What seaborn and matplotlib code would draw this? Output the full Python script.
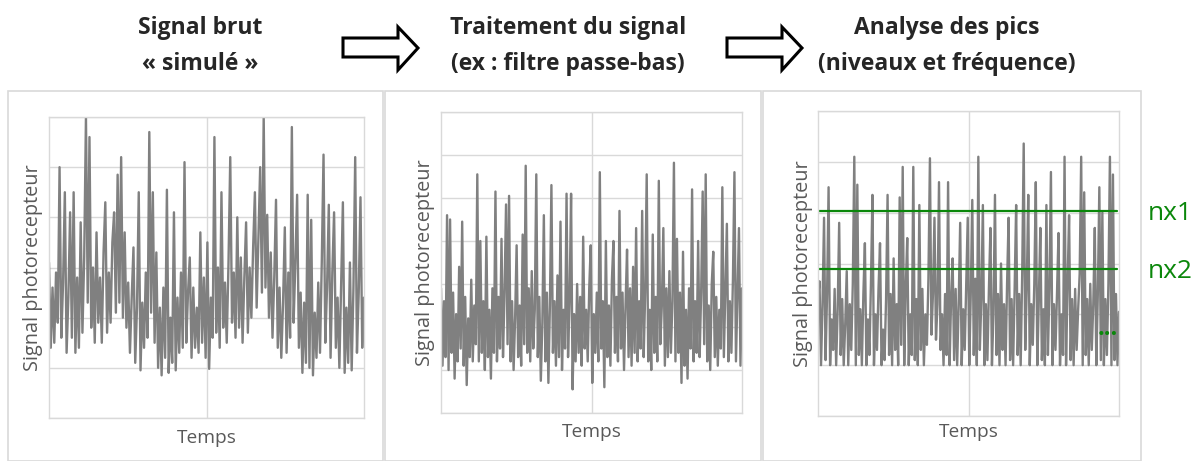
import matplotlib
matplotlib.use("Agg")
import matplotlib.pyplot as plt
from matplotlib.patches import Rectangle, Polygon
import seaborn as sns
import pandas as pd

# values (arbitrary units, one grid step = 1)
raw_signal = [
    3.1, 1.4, 2.6, 1.5, 2.9, 1.9, 5.0, 1.6, 2.7, 4.5, 1.3, 2.4, 4.1, 1.6, 4.5, 1.3, 2.8, 1.4, 3.9, 1.7,
    3.2, 6.0, 2.3, 5.6, 1.8, 3.0, 1.5, 3.7, 1.9, 2.8, 1.5, 3.3, 4.3, 1.7, 2.9, 1.9, 3.5, 4.1, 2.1, 4.85,
    2.3, 5.2, 2.0, 3.7, 1.8, 2.7, 1.3, 2.4, 3.4, 1.1, 2.2, 4.5, 0.95, 2.3, 1.4, 2.9, 1.6, 5.7, 2.1, 4.5,
    1.5, 3.3, 1.0, 2.2, 0.85, 2.6, 1.2, 4.55, 0.9, 2.0, 1.1, 4.1, 0.95, 2.4, 1.3, 2.9, 1.4, 5.1, 1.5, 2.5,
    3.2, 1.2, 2.6, 1.4, 2.2, 1.3, 3.7, 1.5, 2.8, 1.2, 3.5, 0.98, 2.4, 1.6, 5.6, 1.7, 3.0, 1.4, 4.5, 1.8,
    2.7, 1.5, 3.1, 5.2, 1.9, 2.9, 1.6, 4.0, 1.8, 3.2, 1.5, 2.8, 3.9, 1.7, 3.0, 2.0, 3.4, 4.5, 2.2, 3.6,
    5.0, 2.5, 6.0, 2.6, 4.05, 2.0, 3.3, 1.6, 2.8, 4.35, 1.4, 2.6, 1.2, 2.3, 3.8, 1.3, 2.9, 1.6, 5.8, 1.9,
    3.1, 4.45, 1.4, 2.5, 0.9, 2.3, 1.1, 4.45, 1.0, 3.95, 0.85, 2.1, 1.2, 2.7, 1.3, 3.1, 5.25, 1.5, 2.6, 4.25,
    1.2, 2.9, 4.1, 1.4, 2.4, 1.0, 2.7, 4.3, 0.9, 2.2, 1.1, 3.1, 0.95, 2.6, 5.2, 1.3, 2.5, 4.4, 1.4, 2.4,
]

filtered_signal = [
    2.9, 1.1, 2.6, 1.3, 4.6, 1.0, 4.5, 1.4, 2.8, 0.8, 2.3, 1.2, 3.4, 1.5, 4.45, 1.1, 2.7, 0.65, 2.2, 1.3,
    3.1, 1.2, 2.5, 1.6, 5.55, 1.2, 4.0, 1.4, 2.6, 1.0, 4.1, 1.3, 2.4, 0.8, 2.9, 1.4, 5.15, 1.2, 2.7, 1.5,
    4.05, 1.3, 2.8, 4.85, 1.6, 5.05, 1.2, 2.6, 1.0, 2.2, 3.9, 1.3, 2.5, 1.1, 4.15, 1.6, 5.75, 1.4, 2.9, 1.2,
    3.3, 1.5, 2.4, 5.55, 1.3, 2.7, 0.75, 2.1, 4.6, 1.2, 2.8, 0.7, 2.5, 5.3, 1.4, 2.6, 1.1, 3.2, 1.3, 4.45,
    1.0, 2.4, 1.5, 5.1, 1.3, 2.6, 5.1, 0.55, 2.3, 1.2, 3.0, 1.4, 2.7, 1.1, 4.1, 1.5, 2.4, 1.2, 2.9, 3.9,
    0.7, 2.3, 1.4, 2.8, 1.2, 5.6, 1.5, 2.6, 0.6, 4.0, 1.3, 2.5, 1.1, 3.1, 4.0, 1.4, 2.7, 1.2, 4.7, 1.5,
    2.8, 1.0, 2.5, 3.8, 1.3, 2.9, 1.1, 3.4, 1.4, 4.3, 1.2, 2.6, 1.5, 4.7, 1.3, 2.8, 5.55, 1.2, 2.4, 1.0,
    4.15, 1.4, 2.7, 1.2, 5.4, 1.6, 2.5, 4.3, 1.1, 2.9, 1.3, 3.3, 1.4, 2.6, 5.82, 1.2, 4.05, 1.4, 2.8, 0.7,
    3.75, 1.1, 2.4, 0.8, 2.9, 1.5, 5.2, 1.2, 2.6, 1.4, 4.0, 1.3, 2.8, 5.15, 1.6, 5.55, 1.2, 2.5, 1.0, 3.0,
    3.75, 1.3, 2.7, 1.1, 2.4, 1.5, 5.25, 1.3, 2.9, 4.4, 1.2, 2.6, 1.4, 3.1, 5.6, 1.2, 2.8, 4.3, 1.1, 2.9,
]

peak_signal = [
    2.3, 2.65, 1.0, 2.2, 3.9, 1.1, 2.4, 4.5, 1.0, 1.9, 1.3, 2.5, 1.0, 2.1, 3.8, 1.2, 2.3, 1.0, 1.8, 2.85,
    1.0, 2.2, 1.3, 2.6, 5.1, 1.0, 4.55, 1.2, 2.1, 1.0, 2.4, 3.4, 1.0, 1.9, 1.2, 2.6, 4.35, 1.0, 2.0, 1.3,
    2.5, 3.4, 1.0, 1.7, 1.1, 2.3, 4.35, 1.2, 2.4, 1.0, 3.1, 1.3, 2.2, 1.0, 4.3, 1.4, 4.9, 1.0, 2.5, 3.5,
    1.0, 2.0, 1.2, 4.9, 1.1, 2.3, 1.0, 4.15, 1.3, 2.5, 1.0, 2.0, 1.4, 2.7, 5.07, 1.6, 2.4, 3.9, 1.5, 2.2,
    4.6, 1.3, 2.0, 1.0, 2.4, 1.2, 4.6, 1.0, 2.3, 3.1, 1.1, 2.5, 1.0, 2.2, 3.8, 1.0, 2.1, 1.3, 2.6, 3.9,
    1.0, 2.4, 4.25, 1.2, 2.7, 1.0, 5.1, 1.3, 2.3, 4.15, 1.0, 2.2, 1.1, 2.5, 3.7, 1.0, 2.0, 4.35, 1.2, 2.4,
    1.0, 3.0, 1.3, 2.2, 1.0, 2.6, 3.9, 1.1, 2.3, 1.0, 2.5, 4.15, 1.2, 2.4, 1.0, 2.8, 5.36, 1.3, 2.5, 4.35,
    1.0, 2.2, 1.4, 2.6, 4.6, 1.0, 2.3, 3.7, 1.1, 2.1, 1.0, 4.15, 1.2, 2.5, 4.8, 1.0, 2.2, 1.3, 2.4, 3.6,
    1.0, 2.0, 1.2, 5.1, 1.0, 2.6, 3.95, 1.1, 2.3, 1.0, 2.5, 1.3, 2.1, 2.8, 5.1, 1.0, 4.4, 1.2, 2.3, 1.0,
    2.6, 1.3, 2.2, 3.7, 1.0, 2.4, 4.5, 1.1, 4.0, 1.0, 2.3, 1.2, 2.6, 5.1, 1.0, 4.75, 1.1, 2.4, 1.0, 2.05,
]

title_top = ["Signal brut", "Traitement du signal", "Analyse des pics"]
title_bottom = ["\u00ab simul\u00e9 \u00bb", "(ex : filtre passe-bas)", "(niveaux et fr\u00e9quence)"]
level_names = ["nx1", "nx2"]
level_values = [4.04, 2.89]

sns.set_style("white")
plt.rcParams['font.family'] = ['Open Sans', 'DejaVu Sans']

W, H = 1204, 461
fig = plt.figure(figsize=(W / 100, H / 100), dpi=100)


def fx(px):
    return px / W


def fy(py):
    return 1 - py / H


# panel frames
for x0, x1 in [(8, 383), (385, 761), (763, 1141)]:
    fig.patches.append(Rectangle((fx(x0), fy(461)), fx(x1 - x0), (461 - 91) / H,
                                 transform=fig.transFigure, fill=False,
                                 edgecolor="#d9d9d9", lw=1.2))

# axes boxes in pixels: left, top, right, bottom
boxes = [(49, 117, 364, 418), (441, 112, 742, 413), (818, 111, 1119, 416)]
signals = [raw_signal, filtered_signal, peak_signal]
ymax = [6, 7, 6]
ylab_off = [16, 16, 15]
xlab_off = [20, 19, 16]

axes = []
for box, sig, top, yo, xo in zip(boxes, signals, ymax, ylab_off, xlab_off):
    l, t, r, b = box
    ax = fig.add_axes([fx(l), fy(b), fx(r - l), (b - t) / H])
    df = pd.DataFrame({"t": range(len(sig)), "v": sig})
    sns.lineplot(data=df, x="t", y="v", ax=ax, color="#808080", lw=1.7)
    n = len(sig) - 1
    ax.set_xlim(0, n)
    ax.set_ylim(0, top)
    ax.set_xticks([n / 2])
    ax.set_yticks(range(top + 1))
    ax.grid(True, color="#d9d9d9", lw=1)
    ax.set_axisbelow(True)
    ax.tick_params(length=0, labelbottom=False, labelleft=False)
    for s in ax.spines.values():
        s.set_color("#d9d9d9")
        s.set_linewidth(1)
    ax.set_ylabel("Signal photorecepteur", fontsize=14.3, color="#595959")
    ax.yaxis.set_label_coords(-yo / (r - l), 0.5)
    ax.yaxis.label.set_verticalalignment("center")
    ax.set_xlabel("Temps", fontsize=13.8, color="#595959")
    ax.xaxis.set_label_coords(0.5, -xo / (b - t))
    ax.xaxis.label.set_verticalalignment("center")
    axes.append(ax)

# detection levels on the last panel
ax3 = axes[2]
for name, val, ty in zip(level_names, level_values, [214, 271]):
    ax3.axhline(val, xmin=0, xmax=0.993, color="#0a870a", lw=1.6)
    fig.text(fx(1170), fy(ty), name, fontsize=19, color="#0a870a",
             ha="center", va="center")
ax3.text(0.995, 1.72, "...", transform=ax3.get_yaxis_transform(), color="#0a870a",
         fontsize=17, fontweight="bold", ha="right", va="center")

# step titles
for cx, t1, t2 in zip([200, 568, 947], title_top, title_bottom):
    fig.text(fx(cx), fy(28), t1, fontsize=16.5, fontweight="bold", ha="center", va="center")
    fig.text(fx(cx), fy(64), t2, fontsize=16.5, fontweight="bold", ha="center", va="center")

# hollow block arrows between titles
for x0 in [343, 727]:
    pts = [(x0, 38), (x0 + 55, 38), (x0 + 55, 27), (x0 + 75, 48),
           (x0 + 55, 70), (x0 + 55, 57), (x0, 57)]
    fig.patches.append(Polygon([(fx(px), fy(py)) for px, py in pts], closed=True,
                               transform=fig.transFigure, facecolor="white",
                               edgecolor="black", lw=2.2))

fig.savefig("out.png", dpi=100)
